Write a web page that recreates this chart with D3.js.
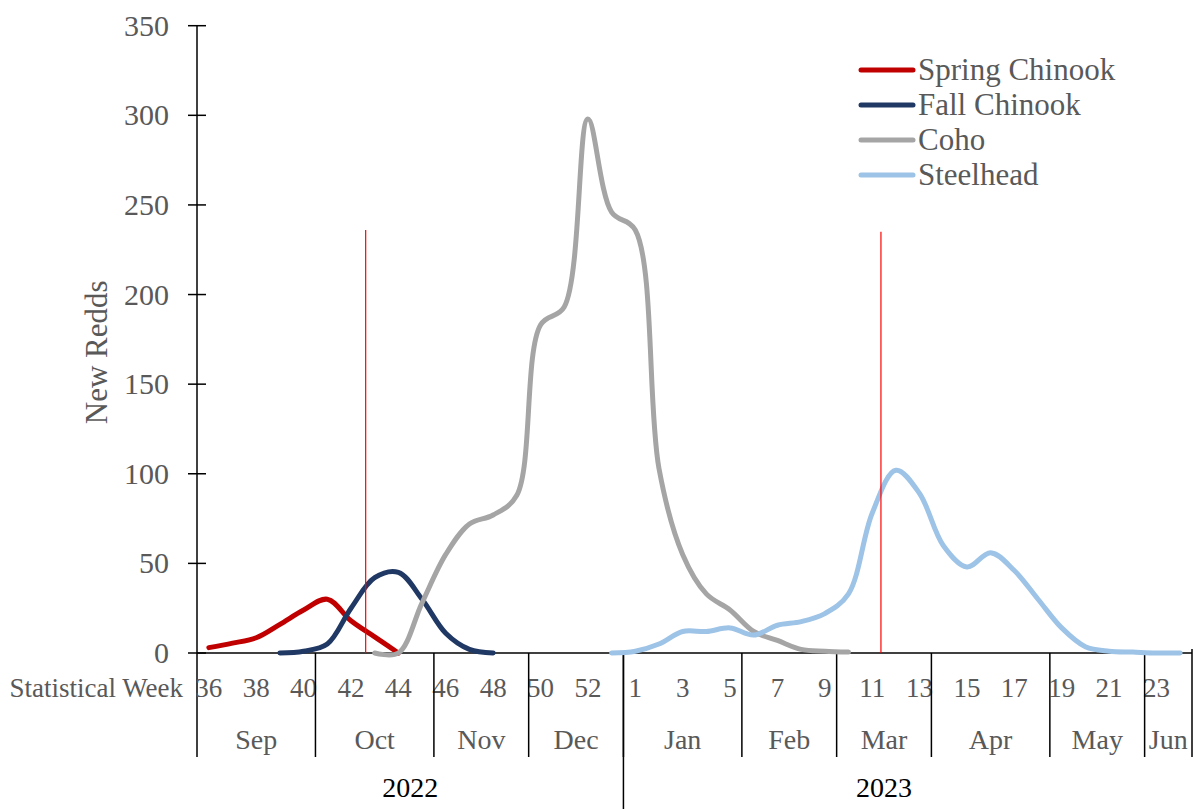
<!DOCTYPE html>
<html>
<head>
<meta charset="utf-8">
<script src="https://cdn.jsdelivr.net/npm/d3@7"></script>
<style>
  html, body { margin: 0; padding: 0; background: #fff; }
  svg { display: block; font-family: "Liberation Serif", "Times New Roman", serif; }
</style>
</head>
<body>
<svg id="chart" width="1194" height="809"></svg>
<script>
// statistical weeks, 2022 season (36-53) then 2023 (1-24)
const weeks = [36,37,38,39,40,41,42,43,44,45,46,47,48,49,50,51,52,53,
               1,2,3,4,5,6,7,8,9,10,11,12,13,14,15,16,17,18,19,20,21,22,23,24];

const months = [['Sep',5],['Oct',5],['Nov',4],['Dec',4],['Jan',5],['Feb',4],
                ['Mar',4],['Apr',5],['May',4],['Jun',2]];
// year groups: [label, first index, last index, label span end]
const years = [['2022', 0, 17, 17], ['2023', 18, 41, 39]];

const yTicks = [0,50,100,150,200,250,300,350];

const _ = null;
const springChinook = [3,5.5,8.5,16,24,30,18,9,0,_,_,_,_,_,_,_,_,_,
                       _,_,_,_,_,_,_,_,_,_,_,_,_,_,_,_,_,_,_,_,_,_,_,_];
const fallChinook   = [_,_,_,0,1,5,25,42,45,30,11,2,0,_,_,_,_,_,
                       _,_,_,_,_,_,_,_,_,_,_,_,_,_,_,_,_,_,_,_,_,_,_,_];
const coho          = [_,_,_,_,_,_,_,0,0,28,55,72,77,88,183,193,298,246,
                       236,103,55,33,24,12,7,2,1,0.5,_,_,_,_,_,_,_,_,_,_,_,_,_,_];
const steelhead     = [_,_,_,_,_,_,_,_,_,_,_,_,_,_,_,_,_,0,
                       1,5,12,12,14,10,15.5,17.5,22,33,78,102,89,60,48,56,46,30,14,3.5,1,0.5,0,0];

const seriesNames  = ['Spring Chinook','Fall Chinook','Coho','Steelhead'];
const seriesColors = ['#C00000','#203864','#A5A5A5','#9DC3E6'];
const seriesData   = [springChinook, fallChinook, coho, steelhead];

// red reference lines: position in category units, top value
const markerPos = [7.12, 28.87];
const markerTop = [236, 235];

const svg = d3.select('#chart');
const x0 = 197, x1 = 1192, yBase = 653, yTop = 25.7;

const x = d3.scaleBand().domain(d3.range(weeks.length)).range([x0, x1]).padding(0);
const bw = x.bandwidth();
const xc = i => x(i) + bw / 2;
const xe = i => x0 + i * bw; // category edge
const y = d3.scaleLinear().domain([0, 350]).range([yBase, yTop]);

const grey = '#595959';

// y axis
const yAxis = svg.append('g').attr('transform', `translate(${x0},0)`)
  .call(d3.axisLeft(y).tickValues(yTicks).tickSize(0).tickPadding(28));
yAxis.select('.domain').remove();
yAxis.selectAll('text').attr('font-size', 30).attr('fill', grey)
  .attr('font-family', '"Liberation Serif", serif');
svg.append('g').selectAll('line').data(yTicks).join('line')
  .attr('x1', x0 - 9).attr('x2', x0 + 9)
  .attr('y1', d => y(d)).attr('y2', d => y(d))
  .attr('stroke', '#000').attr('stroke-width', 1.5);
svg.append('line').attr('x1', x0).attr('x2', x0).attr('y1', y(350)).attr('y2', 757)
  .attr('stroke', '#000').attr('stroke-width', 1.5);

svg.append('text').attr('transform', `translate(107,${(y(350) + yBase) / 2 + 13}) rotate(-90)`)
  .attr('text-anchor', 'middle').attr('font-size', 31).attr('fill', grey).text('New Redds');

// x axis baseline
svg.append('line').attr('x1', x0).attr('x2', x1).attr('y1', yBase).attr('y2', yBase)
  .attr('stroke', '#000').attr('stroke-width', 1.5);

// week labels
svg.append('text').attr('x', 183).attr('y', 697).attr('text-anchor', 'end')
  .attr('font-size', 27).attr('fill', grey).text('Statistical Week');
svg.append('g').selectAll('text').data(weeks.map((w, i) => [w, i]).filter(d => d[1] % 2 === 0))
  .join('text')
  .attr('x', d => xc(d[1])).attr('y', 697).attr('text-anchor', 'middle')
  .attr('font-size', 27).attr('fill', grey).text(d => d[0]);

// month groups
let acc = 0;
const monthSpans = months.map(([m, n]) => { const s = { m, a: acc, b: acc + n }; acc += n; return s; });
svg.append('g').selectAll('line').data(monthSpans.slice(1)).join('line')
  .attr('x1', d => xe(d.a)).attr('x2', d => xe(d.a))
  .attr('y1', yBase).attr('y2', 757)
  .attr('stroke', '#000').attr('stroke-width', 1.5);
svg.append('line').attr('x1', x1).attr('x2', x1).attr('y1', yBase - 4).attr('y2', 757)
  .attr('stroke', '#000').attr('stroke-width', 1.5);
svg.append('g').selectAll('text').data(monthSpans).join('text')
  .attr('x', d => (xe(d.a) + xe(d.b)) / 2).attr('y', 749).attr('text-anchor', 'middle')
  .attr('font-size', 28).attr('fill', grey).text(d => d.m);

// year groups
svg.append('line').attr('x1', xe(years[1][1])).attr('x2', xe(years[1][1]))
  .attr('y1', yBase).attr('y2', 809).attr('stroke', '#000').attr('stroke-width', 1.5);
svg.append('g').selectAll('text').data(years).join('text')
  .attr('x', d => (xe(d[1]) + xe(d[3] + 1)) / 2).attr('y', 797).attr('text-anchor', 'middle')
  .attr('font-size', 28).attr('fill', '#000').text(d => d[0]);

// series (centripetal spline keeps the shoulders from wobbling)
const line = d3.line()
  .defined(d => d[1] !== null)
  .x(d => xc(d[0])).y(d => y(d[1]))
  .curve(d3.curveCatmullRom.alpha(0.5));

svg.append('g').selectAll('path').data(seriesData).join('path')
  .attr('d', d => line(d.map((v, i) => [i, v])))
  .attr('fill', 'none')
  .attr('stroke', (d, i) => seriesColors[i])
  .attr('stroke-width', 5)
  .attr('stroke-linecap', 'round').attr('stroke-linejoin', 'round');

// red reference lines
svg.append('g').selectAll('line').data(markerPos).join('line')
  .attr('x1', d => x0 + d * bw).attr('x2', d => x0 + d * bw)
  .attr('y1', (d, i) => y(markerTop[i])).attr('y2', yBase)
  .attr('stroke', '#FF0000').attr('stroke-width', 1.2);

// legend
const lg = svg.append('g').attr('transform', 'translate(858,70)');
const item = lg.selectAll('g').data(seriesNames).join('g')
  .attr('transform', (d, i) => `translate(0,${i * 35})`);
item.append('line').attr('x1', 3).attr('x2', 55).attr('y1', 0).attr('y2', 0)
  .attr('stroke', (d, i) => seriesColors[i]).attr('stroke-width', 5).attr('stroke-linecap', 'round');
item.append('text').attr('x', 60).attr('y', 10).attr('font-size', 31).attr('fill', grey).text(d => d);
</script>
</body>
</html>
